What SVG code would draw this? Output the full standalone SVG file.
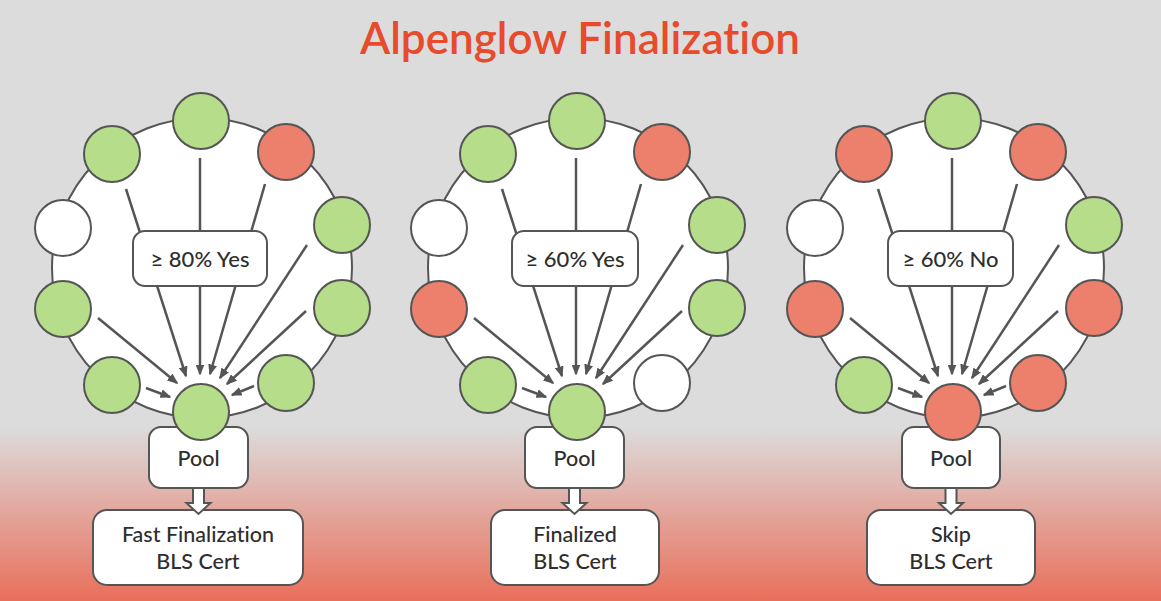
<svg xmlns="http://www.w3.org/2000/svg" width="1161" height="601" viewBox="0 0 1161 601">
<defs>
<linearGradient id="bg" x1="0" y1="0" x2="0" y2="1">
<stop offset="0" stop-color="#dcdcdc"/>
<stop offset="0.71" stop-color="#dcdcdc"/>
<stop offset="1" stop-color="#e96f5b"/>
</linearGradient>
<marker id="ah" markerUnits="userSpaceOnUse" markerWidth="11" markerHeight="9" refX="9.5" refY="4.5" orient="auto">
<path d="M0,0 L11,4.5 L0,9 z" fill="#555"/>
</marker>
</defs>
<style>
.ring{fill:#fff;stroke:#555;stroke-width:2}
.n{stroke:#555;stroke-width:2}
.g{fill:#b6de8a}
.r{fill:#ec806c}
.w{fill:#fff}
.edges line{stroke:#555;stroke-width:2.5;marker-end:url(#ah)}
.box{fill:#fff;stroke:#555;stroke-width:2}
.t{font-family:Lato,"Liberation Sans",sans-serif;fill:#2e2e2e;text-anchor:middle;font-weight:500;font-variant-ligatures:none}
.lbl{font-size:22px}
.pl{font-size:21.5px}
.hollow{fill:#fff;stroke:#555;stroke-width:2;stroke-linejoin:miter}
</style>
<rect x="0" y="0" width="1161" height="601" fill="url(#bg)"/>
<text x="580" y="54" font-family="Lato,'Liberation Sans',sans-serif" font-size="44" font-weight="600" fill="#e84a2c" text-anchor="middle" style="font-variant-ligatures:none">Alpenglow Finalization</text>

<!-- Diagram 1 -->
<g id="diagram1">
<circle class="ring" cx="202" cy="268" r="150"/>
<g class="edges" id="connectors1">
<line x1="200" y1="158" x2="200" y2="374"/>
<line x1="126" y1="189" x2="186" y2="376"/>
<line x1="265" y1="184" x2="210" y2="374"/>
<line x1="307" y1="245" x2="220" y2="378"/>
<line x1="306" y1="311" x2="227" y2="384"/>
<line x1="98" y1="318" x2="177" y2="383"/>
<line x1="146" y1="388" x2="170" y2="397"/>
<line x1="254" y1="386" x2="232" y2="395"/>
</g>
<g id="d1-vote"><rect class="box" x="133" y="231" width="134" height="55" rx="12"/><text class="t lbl" x="200" y="267">≥ 80% Yes</text></g>
<g id="d1-n1"><circle class="n g" cx="201" cy="121" r="28"/></g>
<g id="d1-n2"><circle class="n g" cx="112" cy="154" r="28"/></g>
<g id="d1-n3"><circle class="n r" cx="286" cy="152" r="28"/></g>
<g id="d1-n4"><circle class="n w" cx="63" cy="228" r="28"/></g>
<g id="d1-n5"><circle class="n g" cx="342" cy="225" r="28"/></g>
<g id="d1-n6"><circle class="n g" cx="63" cy="309" r="28"/></g>
<g id="d1-n7"><circle class="n g" cx="342" cy="308" r="28"/></g>
<g id="d1-n8"><circle class="n g" cx="112" cy="385" r="28"/></g>
<g id="d1-n9"><circle class="n g" cx="286" cy="383" r="28"/></g>
<g id="d1-pool"><rect class="box" x="149" y="427" width="99" height="61" rx="12"/><text class="t pl" x="198.5" y="466">Pool</text></g>
<g id="d1-leader"><circle class="n g" cx="201" cy="412" r="28"/></g>
<g id="d1-cert"><rect class="box" x="93" y="510" width="210" height="75" rx="14"/><text class="t pl" x="198" y="542">Fast Finalization</text><text class="t pl" x="198" y="569">BLS Cert</text></g>
<g id="d1-flow"><path class="hollow" d="M193,489 L193,503 L186.5,503 L198.5,514 L210.5,503 L204,503 L204,489"/></g>
</g>

<!-- Diagram 2 -->
<g id="diagram2">
<circle class="ring" cx="578" cy="268" r="150"/>
<g class="edges" id="connectors2" transform="translate(376,0)">
<line x1="200" y1="158" x2="200" y2="374"/>
<line x1="126" y1="189" x2="186" y2="376"/>
<line x1="265" y1="184" x2="210" y2="374"/>
<line x1="307" y1="245" x2="220" y2="378"/>
<line x1="306" y1="311" x2="227" y2="384"/>
<line x1="98" y1="318" x2="177" y2="383"/>
<line x1="146" y1="388" x2="170" y2="397"/>
</g>
<g id="d2-vote"><rect class="box" x="512" y="231" width="126" height="55" rx="12"/><text class="t lbl" x="575" y="267">≥ 60% Yes</text></g>
<g id="d2-n1"><circle class="n g" cx="577" cy="121" r="28"/></g>
<g id="d2-n2"><circle class="n g" cx="488" cy="154" r="28"/></g>
<g id="d2-n3"><circle class="n r" cx="662" cy="152" r="28"/></g>
<g id="d2-n4"><circle class="n w" cx="439" cy="228" r="28"/></g>
<g id="d2-n5"><circle class="n g" cx="717" cy="225" r="28"/></g>
<g id="d2-n6"><circle class="n r" cx="439" cy="309" r="28"/></g>
<g id="d2-n7"><circle class="n g" cx="717" cy="308" r="28"/></g>
<g id="d2-n8"><circle class="n g" cx="488" cy="385" r="28"/></g>
<g id="d2-n9"><circle class="n w" cx="662" cy="383" r="28"/></g>
<g id="d2-pool"><rect class="box" x="525" y="427" width="99" height="61" rx="12"/><text class="t pl" x="574.5" y="466">Pool</text></g>
<g id="d2-leader"><circle class="n g" cx="577" cy="412" r="28"/></g>
<g id="d2-cert"><rect class="box" x="491" y="510" width="168" height="75" rx="14"/><text class="t pl" x="575" y="542">Finalized</text><text class="t pl" x="575" y="569">BLS Cert</text></g>
<g id="d2-flow"><path class="hollow" d="M569,489 L569,503 L562.5,503 L574.5,514 L586.5,503 L580,503 L580,489"/></g>
</g>

<!-- Diagram 3 -->
<g id="diagram3">
<circle class="ring" cx="954" cy="268" r="150"/>
<g class="edges" id="connectors3" transform="translate(752,0)">
<line x1="200" y1="158" x2="200" y2="374"/>
<line x1="126" y1="189" x2="186" y2="376"/>
<line x1="265" y1="184" x2="210" y2="374"/>
<line x1="307" y1="245" x2="220" y2="378"/>
<line x1="306" y1="311" x2="227" y2="384"/>
<line x1="98" y1="318" x2="177" y2="383"/>
<line x1="146" y1="388" x2="170" y2="397"/>
<line x1="254" y1="386" x2="232" y2="395"/>
</g>
<g id="d3-vote"><rect class="box" x="888" y="231" width="125" height="55" rx="12"/><text class="t lbl" x="950.5" y="267">≥ 60% No</text></g>
<g id="d3-n1"><circle class="n g" cx="953" cy="121" r="28"/></g>
<g id="d3-n2"><circle class="n r" cx="864" cy="154" r="28"/></g>
<g id="d3-n3"><circle class="n r" cx="1038" cy="152" r="28"/></g>
<g id="d3-n4"><circle class="n w" cx="815" cy="228" r="28"/></g>
<g id="d3-n5"><circle class="n g" cx="1094" cy="225" r="28"/></g>
<g id="d3-n6"><circle class="n r" cx="815" cy="309" r="28"/></g>
<g id="d3-n7"><circle class="n r" cx="1094" cy="308" r="28"/></g>
<g id="d3-n8"><circle class="n g" cx="864" cy="385" r="28"/></g>
<g id="d3-n9"><circle class="n r" cx="1038" cy="383" r="28"/></g>
<g id="d3-pool"><rect class="box" x="902" y="427" width="98" height="61" rx="12"/><text class="t pl" x="951" y="466">Pool</text></g>
<g id="d3-leader"><circle class="n r" cx="953" cy="412" r="28"/></g>
<g id="d3-cert"><rect class="box" x="867" y="510" width="168" height="75" rx="14"/><text class="t pl" x="951" y="542">Skip</text><text class="t pl" x="951" y="569">BLS Cert</text></g>
<g id="d3-flow"><path class="hollow" d="M945.5,489 L945.5,503 L939,503 L951,514 L963,503 L956.5,503 L956.5,489"/></g>
</g>
</svg>
